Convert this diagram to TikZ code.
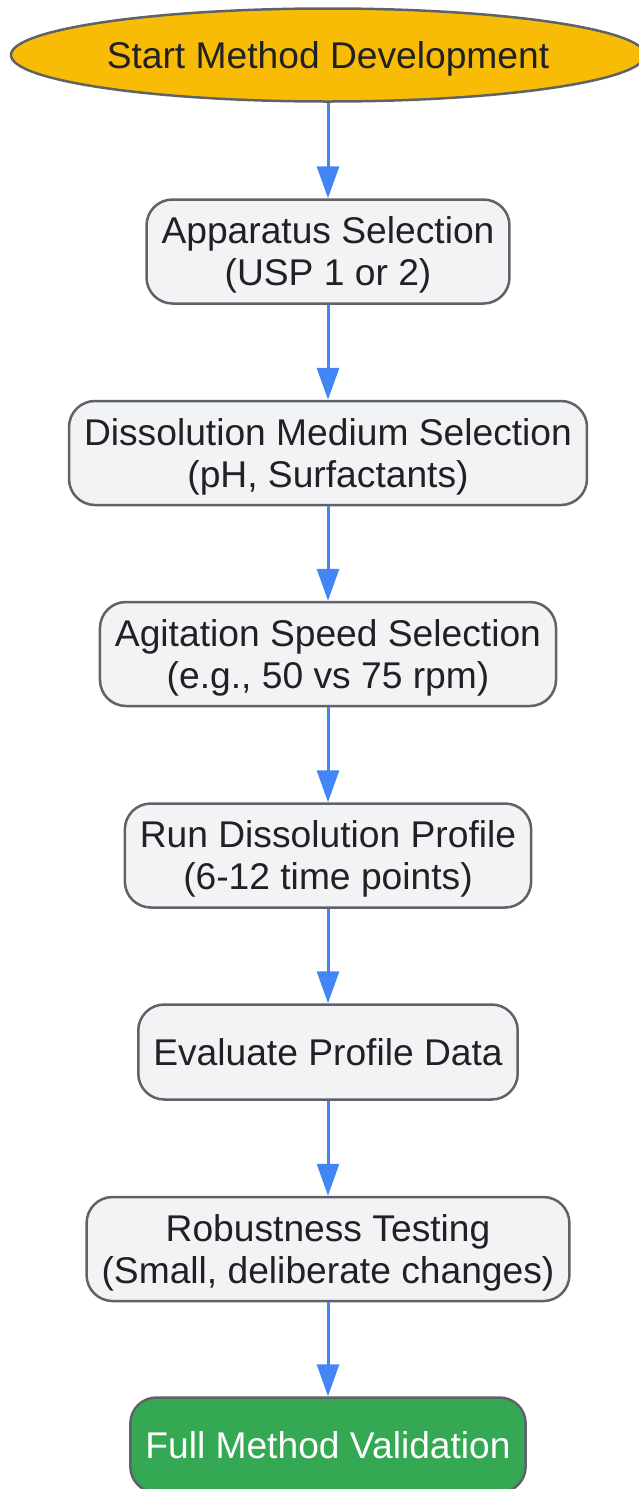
\documentclass[tikz,border=0pt]{standalone}
\usepackage{fontspec}
\setmainfont{Liberation Sans}
\usetikzlibrary{shapes.geometric,arrows.meta}

\definecolor{startfill}{HTML}{F9BC06}
\definecolor{boxfill}{HTML}{F1F3F4}
\definecolor{edgegray}{HTML}{5F6368}
\definecolor{textdark}{HTML}{202124}
\definecolor{endgreen}{HTML}{34A853}
\definecolor{flowblue}{HTML}{4285F4}

\begin{document}
\begin{tikzpicture}[x=1pt,y=-1pt]

  \tikzstyle{base}=[draw=edgegray,line width=2.5pt,text=textdark,align=center,inner sep=0pt,text depth=0pt,font=\fontsize{37.2}{42}\selectfont]
  \tikzstyle{startnode}=[base,ellipse,fill=startfill,minimum width=634pt,minimum height=93pt]
  \tikzstyle{stepbox}=[base,rectangle,rounded corners=26pt,fill=boxfill,inner xsep=15pt,minimum height=104pt]
  \tikzstyle{endbox}=[stepbox,fill=endgreen,text=white,minimum height=95pt]
  \tikzstyle{flow}=[line width=3pt,draw=flowblue,-{Triangle[length=32pt,width=22pt]}]

  % ====================
  % Parameters
  % ====================
  \def\colx{328}  % Centre line of the flow
  % ====================

  \useasboundingbox (0,0) rectangle (638,1489);

  % ====================
  % Steps
  % ====================
  \node (start) [startnode] at (\colx,55) {Start Method Development};
  \node (apparatus) [stepbox] at (\colx,251.5) {Apparatus Selection\\(USP 1 or 2)};
  \node (medium) [stepbox] at (\colx,453) {Dissolution Medium Selection\\(pH, Surfactants)};
  \node (agitation) [stepbox] at (\colx,654) {Agitation Speed Selection\\(e.g., 50 vs 75 rpm)};
  \node (profile) [stepbox] at (\colx,855.5) {Run Dissolution Profile\\(6-12 time points)};
  \node (evaluate) [stepbox,minimum height=95pt] at (\colx,1052) {Evaluate Profile Data};
  \node (robust) [stepbox] at (\colx,1249) {Robustness Testing\\(Small, deliberate changes)};
  \node (validation) [endbox] at (\colx,1445) {Full Method Validation};

  % Arrows
  \draw[flow] (start) -- (apparatus);
  \draw[flow] (apparatus) -- (medium);
  \draw[flow] (medium) -- (agitation);
  \draw[flow] (agitation) -- (profile);
  \draw[flow] (profile) -- (evaluate);
  \draw[flow] (evaluate) -- (robust);
  \draw[flow] (robust) -- (validation);
\end{tikzpicture}
\end{document}
